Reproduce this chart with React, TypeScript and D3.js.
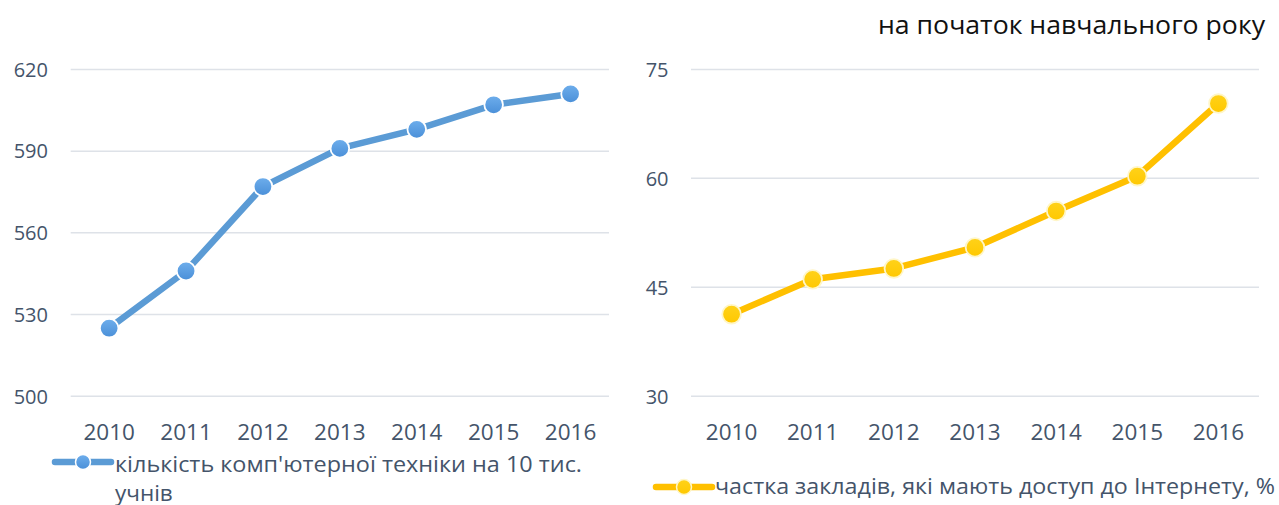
import React from "react";
import * as d3 from "d3";

const years = ["2010", "2011", "2012", "2013", "2014", "2015", "2016"];
const computersPer10k = [525, 546, 577, 591, 598, 607, 611];
const internetShare = [41.3, 46.1, 47.6, 50.5, 55.5, 60.3, 70.3];
const leftTicks = [500, 530, 560, 590, 620];
const rightTicks = [30, 45, 60, 75];
const leftLegendLines = ["кількість комп'ютерної техніки на 10 тис.", "учнів"];
const rightLegendLines = ["частка закладів, які мають доступ до Інтернету, %"];
const titleText = "на початок навчального року";

const W = 1279;
const H = 505;
const FONT = "'Open Sans', 'Noto Sans', sans-serif";
const TEXT = "#44546A";
const GRID = "#DEE2E8";

type PanelProps = {
  values: number[];
  ticks: number[];
  domain: [number, number];
  x0: number;
  x1: number;
  labelRight: number;
  lineColor: string;
  gradId: string;
  markerStroke: string;
};

function Panel({ values, ticks, domain, x0, x1, labelRight, lineColor, gradId, markerStroke }: PanelProps) {
  const x = d3.scalePoint<string>().domain(years).range([x0, x1]).padding(0.5);
  const y = d3.scaleLinear().domain(domain).range([396.3, 69.4]);
  const line = d3
    .line<number>()
    .x((_, i) => x(years[i]) as number)
    .y((d) => y(d));
  return (
    <g>
      {ticks.map((t) => (
        <g key={t}>
          <line x1={x0} x2={x1} y1={y(t)} y2={y(t)} stroke={GRID} strokeWidth={1.5} />
          <text
            x={labelRight}
            y={y(t)}
            dy="0.36em"
            textAnchor="end"
            fontSize={20}
            fill={TEXT}
            fontFamily={FONT}
          >
            {t}
          </text>
        </g>
      ))}
      {years.map((yr) => (
        <text
          key={yr}
          x={x(yr)}
          y={439.5}
          textAnchor="middle"
          fontSize={22.5}
          fill={TEXT}
          fontFamily={FONT}
        >
          {yr}
        </text>
      ))}
      <path
        d={line(values) || ""}
        fill="none"
        stroke={lineColor}
        strokeWidth={6.5}
        strokeLinejoin="round"
        strokeLinecap="round"
      />
      {values.map((v, i) => (
        <circle
          key={i}
          cx={x(years[i])}
          cy={y(v)}
          r={9.3}
          fill={`url(#${gradId})`}
          stroke={markerStroke}
          strokeWidth={1.8}
        />
      ))}
    </g>
  );
}

function LegendItem({
  x0,
  x1,
  cy,
  color,
  gradId,
  markerStroke,
  lines,
  textX,
  baseline,
  firstLength,
}: {
  x0: number;
  x1: number;
  cy: number;
  color: string;
  gradId: string;
  markerStroke: string;
  lines: string[];
  textX: number;
  baseline: number;
  firstLength: number;
}) {
  return (
    <g>
      <line x1={x0} x2={x1} y1={cy} y2={cy} stroke={color} strokeWidth={6.5} strokeLinecap="round" />
      <circle cx={(x0 + x1) / 2} cy={cy} r={7.5} fill={`url(#${gradId})`} stroke={markerStroke} strokeWidth={1.5} />
      {lines.map((l, i) => (
        <text
          key={i}
          x={textX}
          y={baseline + i * 29}
          fontSize={22.5}
          fill={TEXT}
          fontFamily={FONT}
          textLength={i === 0 ? firstLength : undefined}
          lengthAdjust={i === 0 ? "spacingAndGlyphs" : undefined}
        >
          {l}
        </text>
      ))}
    </g>
  );
}

export default function App() {
  return (
    <svg
      width={W}
      height={H}
      style={{ position: "absolute", left: 0, top: 0, background: "#fff" }}
    >
      <defs>
        <linearGradient id="blueGrad" x1="0" y1="0" x2="0" y2="1">
          <stop offset="0%" stopColor="#6EAEEC" />
          <stop offset="100%" stopColor="#4A8FD8" />
        </linearGradient>
        <linearGradient id="yellowGrad" x1="0" y1="0" x2="0" y2="1">
          <stop offset="0%" stopColor="#FFD21A" />
          <stop offset="100%" stopColor="#FFC800" />
        </linearGradient>
      </defs>
      <rect x={0} y={0} width={W} height={H} fill="#fff" />
      <text
        x={878}
        y={34}
        fontSize={26}
        fill="#111"
        fontFamily={FONT}
        textLength={387}
        lengthAdjust="spacingAndGlyphs"
      >
        {titleText}
      </text>
      <Panel
        values={computersPer10k}
        ticks={leftTicks}
        domain={[500, 620]}
        x0={70.7}
        x1={609}
        labelRight={48}
        lineColor="#5B9BD5"
        gradId="blueGrad"
        markerStroke="#FFFFFF"
      />
      <Panel
        values={internetShare}
        ticks={rightTicks}
        domain={[30, 75]}
        x0={691}
        x1={1259}
        labelRight={668.5}
        lineColor="#FFC000"
        gradId="yellowGrad"
        markerStroke="#FFF6C8"
      />
      <LegendItem
        x0={55}
        x1={111}
        cy={462}
        color="#5B9BD5"
        gradId="blueGrad"
        markerStroke="#FFFFFF"
        lines={leftLegendLines}
        textX={115}
        baseline={472}
        firstLength={467}
      />
      <LegendItem
        x0={656}
        x1={712}
        cy={487}
        color="#FFC000"
        gradId="yellowGrad"
        markerStroke="#FFF6C8"
        lines={rightLegendLines}
        textX={715}
        baseline={494}
        firstLength={560}
      />
    </svg>
  );
}
